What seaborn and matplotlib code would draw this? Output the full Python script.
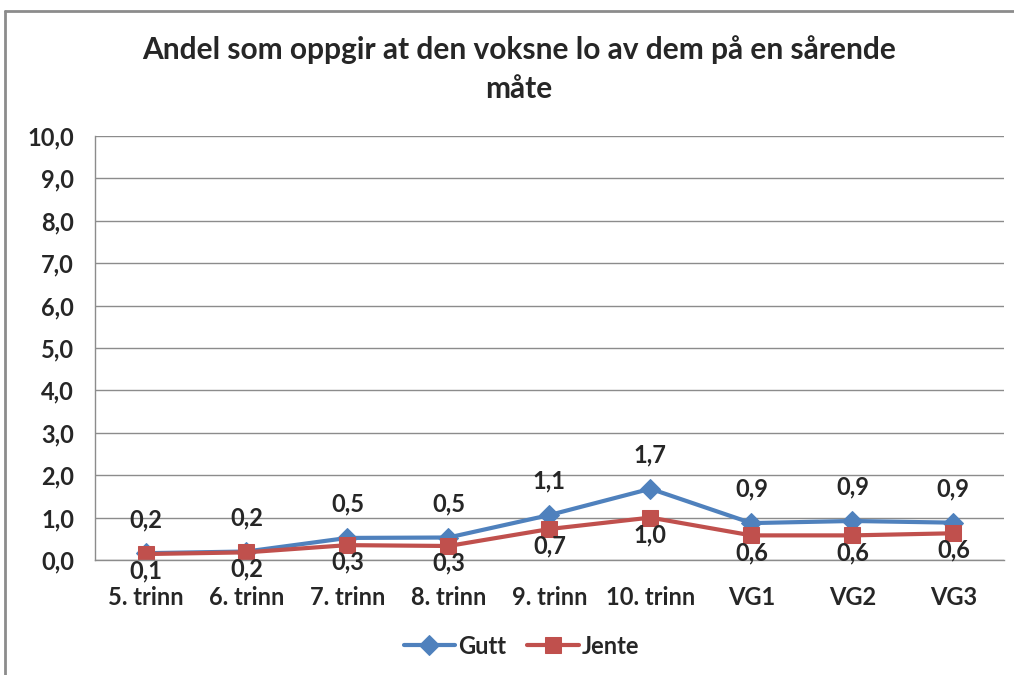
import pandas as pd
import matplotlib.pyplot as plt
from matplotlib.lines import Line2D
import seaborn as sns

sns.set_style("white")
plt.rcParams['font.family'] = ['Lato', 'DejaVu Sans']

TITLE = "Andel som oppgir at den voksne lo av dem på en sårende\nmåte"
CATEGORIES = ["5. trinn", "6. trinn", "7. trinn", "8. trinn", "9. trinn",
              "10. trinn", "VG1", "VG2", "VG3"]
GUTT = [0.16, 0.20, 0.52, 0.53, 1.06, 1.68, 0.87, 0.92, 0.88]
JENTE = [0.14, 0.18, 0.35, 0.33, 0.73, 1.00, 0.58, 0.58, 0.63]
Y_TICKS = [0, 1, 2, 3, 4, 5, 6, 7, 8, 9, 10]

COLORS = {"Gutt": "#4F81BD", "Jente": "#C0504D"}
MARKERS = {"Gutt": "D", "Jente": "s"}
FS = 17

df = pd.DataFrame({
    "trinn": CATEGORIES * 2,
    "andel": GUTT + JENTE,
    "kjonn": ["Gutt"] * len(GUTT) + ["Jente"] * len(JENTE),
})

fig = plt.figure(figsize=(10.14, 6.75), dpi=100)
ax = fig.add_axes([0.0937, 0.1704, 0.8963, 0.6281])

# chart frame (left and top edges, the rest runs off the picture)
fig.add_artist(Line2D([5 / 1014, 5 / 1014], [0, 1 - 11 / 675],
                      transform=fig.transFigure, color="#8c8c8c", linewidth=2))
fig.add_artist(Line2D([5 / 1014, 1], [1 - 11 / 675, 1 - 11 / 675],
                      transform=fig.transFigure, color="#8c8c8c", linewidth=2))

for name in ["Gutt", "Jente"]:
    sub = df[df["kjonn"] == name]
    sns.lineplot(data=sub, x="trinn", y="andel", ax=ax, color=COLORS[name],
                 marker=MARKERS[name], markersize=10 if name == "Gutt" else 12,
                 markeredgecolor=COLORS[name], linewidth=3, label=name, sort=False)

# data labels
for i, v in enumerate(GUTT):
    ax.annotate(f"{v:.1f}".replace(".", ","), (i, v), xytext=(0, 16),
                textcoords="offset points", ha="center", va="bottom",
                fontsize=FS, fontweight="bold")
for i, v in enumerate(JENTE):
    ax.annotate(f"{v:.1f}".replace(".", ","), (i, v), xytext=(0, -4),
                textcoords="offset points", ha="center", va="top",
                fontsize=FS, fontweight="bold")

ax.set_xlim(-0.5, len(CATEGORIES) - 0.5)
ax.set_ylim(0, 10)
ax.set_yticks(Y_TICKS)
ax.set_yticklabels([f"{t:.1f}".replace(".", ",") for t in Y_TICKS],
                   fontsize=FS, fontweight="bold")
ax.set_xticks(range(len(CATEGORIES)))
ax.set_xticklabels(CATEGORIES, fontsize=FS, fontweight="bold")
ax.tick_params(axis="x", pad=19, length=0)
ax.tick_params(axis="y", pad=15, length=0)
ax.set_xlabel("")
ax.set_ylabel("")
ax.yaxis.grid(True, color="#8c8c8c", linewidth=1)
ax.set_axisbelow(True)
for side in ["top", "right"]:
    ax.spines[side].set_visible(False)
for side in ["left", "bottom"]:
    ax.spines[side].set_color("#8c8c8c")
    ax.spines[side].set_linewidth(1)

fig.text(0.512, 1 - 69 / 675, TITLE, ha="center", va="center",
         fontsize=21.5, fontweight="bold", linespacing=1.5)

handles, labels = ax.get_legend_handles_labels()
ax.legend_.remove()
fig.legend(handles, labels, loc="center", bbox_to_anchor=(0.514, 1 - 646 / 675),
           ncol=2, frameon=False, handlelength=2.2,
           handletextpad=0.1, columnspacing=0.9,
           prop={"weight": "bold", "size": FS})

fig.savefig("out.png", dpi=100)
